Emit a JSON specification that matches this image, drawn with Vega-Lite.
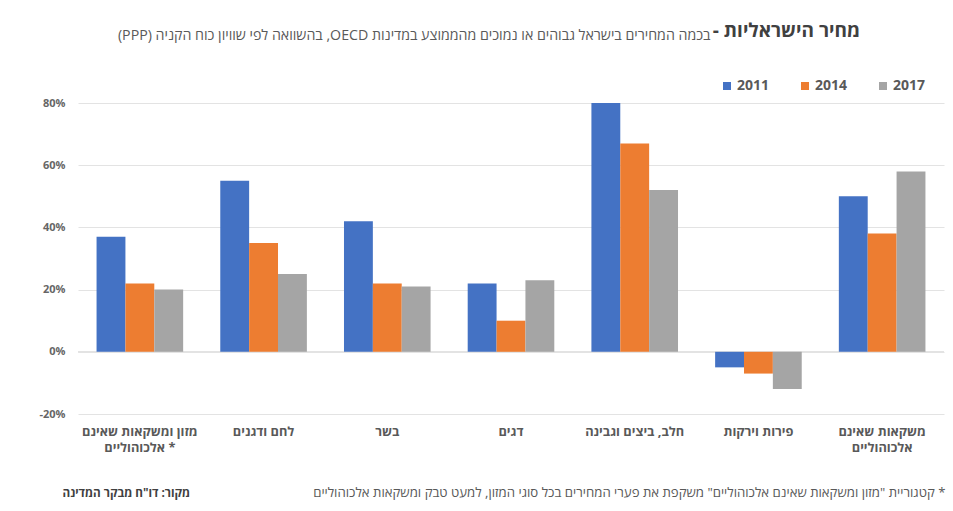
{
  "$schema": "https://vega.github.io/schema/vega-lite/v6.json",
  "autosize": "none",
  "padding": {"left": 78, "top": 103, "right": 9, "bottom": 97},
  "width": 866,
  "height": 311,
  "background": "white",
  "config": {"view": {"stroke": null}, "font": "Open Sans, Arial, Liberation Sans, sans-serif"},
  "title": {
    "text": "\u202bמחיר הישראליות -\u202c",
    "anchor": "end",
    "frame": "group",
    "dx": -84,
    "dy": 28,
    "fontSize": 19,
    "fontWeight": "bold",
    "color": "#404040",
    "baseline": "alphabetic",
    "offset": 0
  },
  "data": {
    "values": [
      {"cat": "מזון ומשקאות שאינם אלכוהוליים *", "year": "2011", "v": 37},
      {"cat": "מזון ומשקאות שאינם אלכוהוליים *", "year": "2014", "v": 22},
      {"cat": "מזון ומשקאות שאינם אלכוהוליים *", "year": "2017", "v": 20},
      {"cat": "לחם ודגנים", "year": "2011", "v": 55},
      {"cat": "לחם ודגנים", "year": "2014", "v": 35},
      {"cat": "לחם ודגנים", "year": "2017", "v": 25},
      {"cat": "בשר", "year": "2011", "v": 42},
      {"cat": "בשר", "year": "2014", "v": 22},
      {"cat": "בשר", "year": "2017", "v": 21},
      {"cat": "דגים", "year": "2011", "v": 22},
      {"cat": "דגים", "year": "2014", "v": 10},
      {"cat": "דגים", "year": "2017", "v": 23},
      {"cat": "חלב, ביצים וגבינה", "year": "2011", "v": 80},
      {"cat": "חלב, ביצים וגבינה", "year": "2014", "v": 67},
      {"cat": "חלב, ביצים וגבינה", "year": "2017", "v": 52},
      {"cat": "פירות וירקות", "year": "2011", "v": -5},
      {"cat": "פירות וירקות", "year": "2014", "v": -7},
      {"cat": "פירות וירקות", "year": "2017", "v": -12},
      {"cat": "משקאות שאינם אלכוהוליים", "year": "2011", "v": 50},
      {"cat": "משקאות שאינם אלכוהוליים", "year": "2014", "v": 38},
      {"cat": "משקאות שאינם אלכוהוליים", "year": "2017", "v": 58}
    ]
  },
  "layer": [
    {
      "mark": {"type": "rule", "color": "#e3e3e3", "strokeWidth": 1},
      "encoding": {
        "y": {
          "datum": 0,
          "type": "quantitative",
          "axis": {
            "orient": "right",
            "labels": false,
            "ticks": false,
            "domain": false,
            "grid": false,
            "title": "\u202bבכמה המחירים בישראל גבוהים או נמוכים מהממוצע במדינות OECD, בהשוואה לפי שוויון כוח הקניה (PPP)\u202c",
            "titleAngle": 0,
            "titleX": -234,
            "titleY": -64,
            "titleAlign": "right",
            "titleBaseline": "alphabetic",
            "titleFontSize": 14.2,
            "titleFontWeight": "normal",
            "titleColor": "#595959"
          }
        }
      }
    },
    {
      "mark": {"type": "bar"},
      "encoding": {
        "x": {
          "field": "cat",
          "type": "nominal",
          "sort": null,
          "scale": {"paddingInner": 0.3, "paddingOuter": 0.15},
          "axis": {
            "title": "\u202b* קטגוריית \"מזון ומשקאות שאינם אלכוהוליים\" משקפת את פערי המחירים בכל סוגי המזון, למעט טבק ומשקאות אלכוהוליים\u202c",
            "titleX": 867,
            "titleY": 78,
            "titleAlign": "right",
            "titleBaseline": "middle",
            "titleFontSize": 13.2,
            "titleFontWeight": "normal",
            "titleColor": "#595959",
            "labelAngle": 0,
            "labelPadding": 11,
            "labelFontSize": 12.8,
            "labelFontWeight": "bold",
            "labelColor": "#595959",
            "labelLineHeight": 16.5,
            "labelLimit": 200,
            "domain": false,
            "ticks": false,
            "labelExpr": "datum.label == 'משקאות שאינם אלכוהוליים' ? ['משקאות שאינם', 'אלכוהוליים'] : datum.label == 'מזון ומשקאות שאינם אלכוהוליים *' ? ['מזון ומשקאות שאינם', '\u202aאלכוהוליים *\u202c'] : datum.label"
          }
        },
        "xOffset": {"field": "year", "type": "nominal", "scale": {"paddingInner": 0}},
        "y": {
          "field": "v",
          "type": "quantitative",
          "scale": {"domain": [-20, 80], "nice": false},
          "axis": {
            "orient": "left",
            "values": [-20, 0, 20, 40, 60, 80],
            "labelExpr": "datum.value + '%'",
            "grid": true,
            "gridColor": "#e3e3e3",
            "domain": false,
            "ticks": false,
            "labelPadding": 13,
            "labelFontSize": 11,
            "labelFontWeight": "bold",
            "labelColor": "#666666",
            "title": "\u202bמקור: דו\"ח מבקר המדינה\u202c",
            "titleAngle": 0,
            "titleX": -16,
            "titleY": 389,
            "titleAlign": "left",
            "titleBaseline": "middle",
            "titleFontSize": 11.7,
            "titleFontWeight": "bold",
            "titleColor": "#404040"
          }
        },
        "color": {
          "field": "year",
          "type": "nominal",
          "scale": {"domain": ["2011", "2014", "2017"], "range": ["#4472C4", "#ED7D31", "#A5A5A5"]},
          "legend": {
            "orient": "none",
            "legendX": 642,
            "legendY": -24,
            "direction": "horizontal",
            "title": null,
            "symbolType": "square",
            "symbolSize": 64,
            "symbolStrokeWidth": 0,
            "labelFontSize": 14,
            "labelFontWeight": "bold",
            "labelColor": "#595959",
            "columnPadding": 28,
            "labelOffset": 3
          }
        }
      }
    }
  ],
  "resolve": {"axis": {"y": "independent"}}
}
